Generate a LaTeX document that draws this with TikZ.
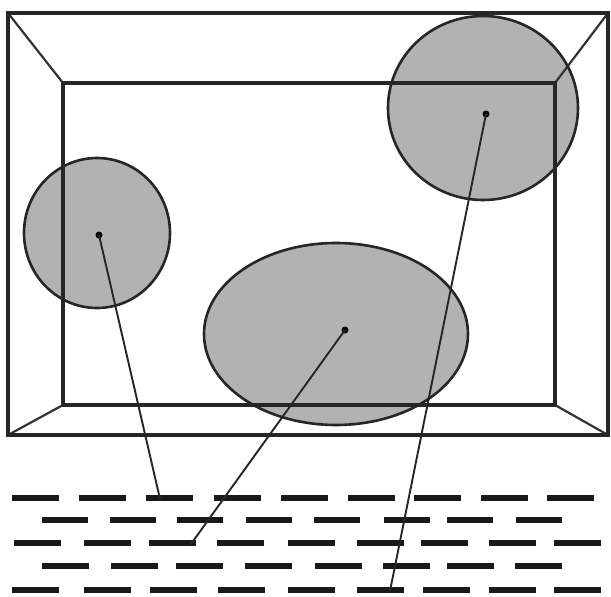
\documentclass[tikz,border=0pt]{standalone}
\usetikzlibrary{shapes.geometric}
\tikzset{
  blob/.style={ellipse, inner sep=0pt, fill=black!30},
  blobline/.style={ellipse, inner sep=0pt, draw=black!85, line width=2.6pt},
  frame/.style={draw=black!85, line width=3.6pt},
  diag/.style={draw=black!80, line width=2.2pt},
  leader/.style={draw=black!85, line width=1.9pt},
  dashbar/.style={line width=5.5pt, black!90},
  dot/.style={circle, fill=black, inner sep=0pt, minimum size=7pt}
}
\begin{document}
\begin{tikzpicture}[x=1pt,y=-1pt]
\useasboundingbox (0,0) rectangle (611,597);
\fill[white] (0,0) rectangle (611,597);
% ellipse fills
\node[blob, minimum width=146pt, minimum height=150pt] (L) at (97,233) {};
\node[blob, minimum width=264pt, minimum height=182pt] (M) at (336,334) {};
\node[blob, minimum width=190pt, minimum height=184pt] (R) at (483,108) {};
% frames
\coordinate (o1) at (8,13); \coordinate (o2) at (608,13);
\coordinate (o3) at (608,435); \coordinate (o4) at (8,435);
\coordinate (i1) at (63,83); \coordinate (i2) at (555,83);
\coordinate (i3) at (555,405); \coordinate (i4) at (63,405);
\path[diag] (o1) -- (i1) (o2) -- (i2) (o3) -- (i3) (o4) -- (i4);
\path[frame] (o1) rectangle (o3);
\path[frame] (i1) rectangle (i3);
% ellipse outlines
\node[blobline, minimum width=146pt, minimum height=150pt] at (97,233) {};
\node[blobline, minimum width=264pt, minimum height=182pt] at (336,334) {};
\node[blobline, minimum width=190pt, minimum height=184pt] at (483,108) {};
% dash rows
\foreach \x in {12,79,146,214,281,348,414,481,547} \draw[dashbar] (\x,498) -- ++(47,0);
\foreach \x in {42,110,177,246,314,384,447,516} \draw[dashbar] (\x,520) -- ++(46,0);
\foreach \x in {14,84,149,217,288,357,421,489,554} \draw[dashbar] (\x,543) -- ++(47,0);
\foreach \x in {42,111,176,245,315,383,447,515} \draw[dashbar] (\x,566) -- ++(47,0);
\foreach \x in {12,84,150,218,288,357,423,489,554} \draw[dashbar] (\x,590) -- ++(47,0);
% leaders
\node[dot] (dL) at (99,235) {};
\node[dot] (dM) at (345,330) {};
\node[dot] (dR) at (486,114) {};
\coordinate (eL) at (160,499);
\coordinate (eM) at (191,544);
\coordinate (eR) at (390,591);
\path[leader] (dL.center) -- (eL);
\path[leader] (dM.center) -- (eM);
\path[leader] (dR.center) -- (eR);
\end{tikzpicture}
\end{document}
